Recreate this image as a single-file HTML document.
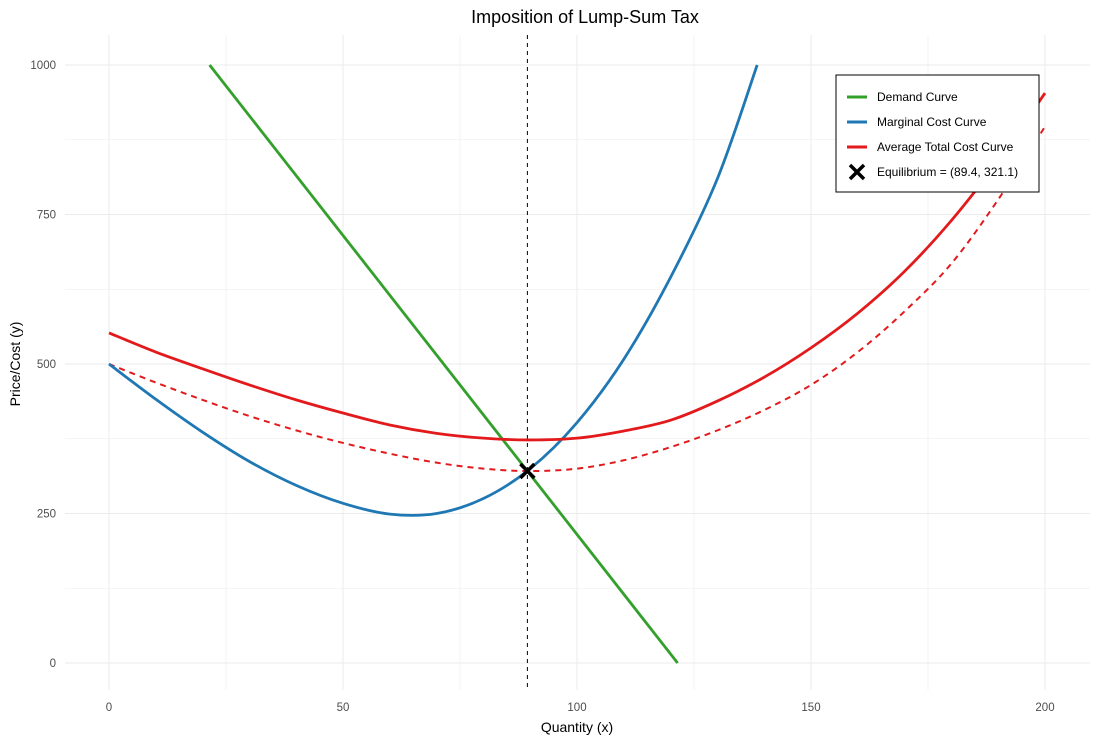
<!DOCTYPE html>
<html><head><meta charset="utf-8"><style>
body{margin:0;background:#fff;}
svg text{font-family:"Liberation Sans",Arial,sans-serif;}
</style></head><body>
<svg id="chart" width="1100" height="742" xmlns="http://www.w3.org/2000/svg">
<rect width="1100" height="742" fill="#fff"/>
<g id="grid"></g><g id="marks"></g><g id="axes"></g>
<text x="585" y="23" text-anchor="middle" font-size="18" fill="#000">Imposition of Lump-Sum Tax</text>
<text x="577" y="732" text-anchor="middle" font-size="14" fill="#000">Quantity (x)</text>
<text transform="translate(20,364) rotate(-90)" text-anchor="middle" font-size="14" fill="#000">Price/Cost (y)</text>
<g>
<rect x="836" y="75" width="203" height="117" fill="#fff" stroke="#000" stroke-width="1"/>
<line x1="847" y1="97" x2="867" y2="97" stroke="#33a02c" stroke-width="3"/>
<text x="877" y="101" font-size="12">Demand Curve</text>
<line x1="847" y1="122" x2="867" y2="122" stroke="#1f78b4" stroke-width="3"/>
<text x="877" y="126" font-size="12">Marginal Cost Curve</text>
<line x1="847" y1="147" x2="867" y2="147" stroke="#e31a1c" stroke-width="3"/>
<text x="877" y="151" font-size="12">Average Total Cost Curve</text>
<path d="M850,165 L864,179 M864,165 L850,179" stroke="#000" stroke-width="3.5"/>
<text x="877" y="176" font-size="12">Equilibrium = (89.4, 321.1)</text>
</g>
</svg>
<script>
const xTicks=[0,50,100,150,200];
const yTicks=[0,250,500,750,1000];
const demandX=[21.5,121.5];
const demandY=[1000,0];
const mcX=[0,10,20,30,40,50,60,70,80,90,100,110,120,130,138.5];
const mcY=[500,441,386,337,297,267,249,250,275,325,402,508,645,810,1000];
const atcX=[0,10,20,30,40,50,60,70,80,90,100,110,120,130,140,150,160,170,180,190,200];
const atcY=[552,520,492,465,440,418,398,384,376,373,376,388,406,438,478,527,585,655,740,840,953];
const atc0X=[0,10,20,30,40,50,60,70,80,90,100,110,120,130,140,150,160,170,180,190,200];
const atc0Y=[500,469,440,413,389,368,350,335,325,321,325,339,361,389,423,465,520,588,668,775,897];
const eqX=89.4, eqY=321.1;
const sx=v=>109+v*4.68, sy=v=>663-v*0.598;
const NS="http://www.w3.org/2000/svg";
function mk(t,a,p){const e=document.createElementNS(NS,t);for(const k in a)e.setAttribute(k,a[k]);p.appendChild(e);return e;}
const grid=document.getElementById('grid'),marks=document.getElementById('marks'),axes=document.getElementById('axes');
for(let v=0;v<=200;v+=25){const l=mk('line',{x1:sx(v),x2:sx(v),y1:35,y2:690,stroke:'#ebebeb','stroke-width':v%50?0.6:1},grid);

}
for(let v=0;v<=1000;v+=125){const l=mk('line',{x1:65,x2:1090,y1:sy(v),y2:sy(v),stroke:'#ebebeb','stroke-width':v%250?0.6:1},grid);

}
xTicks.forEach(v=>{const t=mk('text',{x:sx(v),y:711,'text-anchor':'middle','font-size':11.5,fill:'#4d4d4d'},axes);t.textContent=v;

});
yTicks.forEach(v=>{const t=mk('text',{x:56,y:sy(v)+4,'text-anchor':'end','font-size':11.5,fill:'#4d4d4d'},axes);t.textContent=v;

});
function smooth(X,Y){const p=X.map((x,i)=>[sx(x),sy(Y[i])]);let d='M'+p[0];
for(let i=0;i<p.length-1;i++){const p0=p[i-1]||p[i],p1=p[i],p2=p[i+1],p3=p[i+2]||p2;
const c1=[p1[0]+(p2[0]-p0[0])/6,p1[1]+(p2[1]-p0[1])/6],c2=[p2[0]-(p3[0]-p1[0])/6,p2[1]-(p3[1]-p1[1])/6];
d+=' C'+c1+' '+c2+' '+p2;}return d;}
const vl=mk('line',{x1:sx(eqX),x2:sx(eqX),y1:35,y2:690,stroke:'#000','stroke-width':1,'stroke-dasharray':'4,4'},marks);


const d1=mk('path',{d:smooth(demandX,demandY),fill:'none',stroke:'#33a02c','stroke-width':2.8},marks);


const a0=mk('path',{d:smooth(atc0X,atc0Y),fill:'none',stroke:'#e31a1c','stroke-width':2,'stroke-dasharray':'6,5'},marks);


const m1=mk('path',{d:smooth(mcX,mcY),fill:'none',stroke:'#1f78b4','stroke-width':2.8},marks);


const a1=mk('path',{d:smooth(atcX,atcY),fill:'none',stroke:'#e31a1c','stroke-width':2.8},marks);


const ex=sx(eqX),ey=sy(eqY);
const eq=mk('path',{d:`M${ex-7},${ey-7} L${ex+7},${ey+7} M${ex+7},${ey-7} L${ex-7},${ey+7}`,stroke:'#000','stroke-width':3.5},marks);


</script>
</body></html>
